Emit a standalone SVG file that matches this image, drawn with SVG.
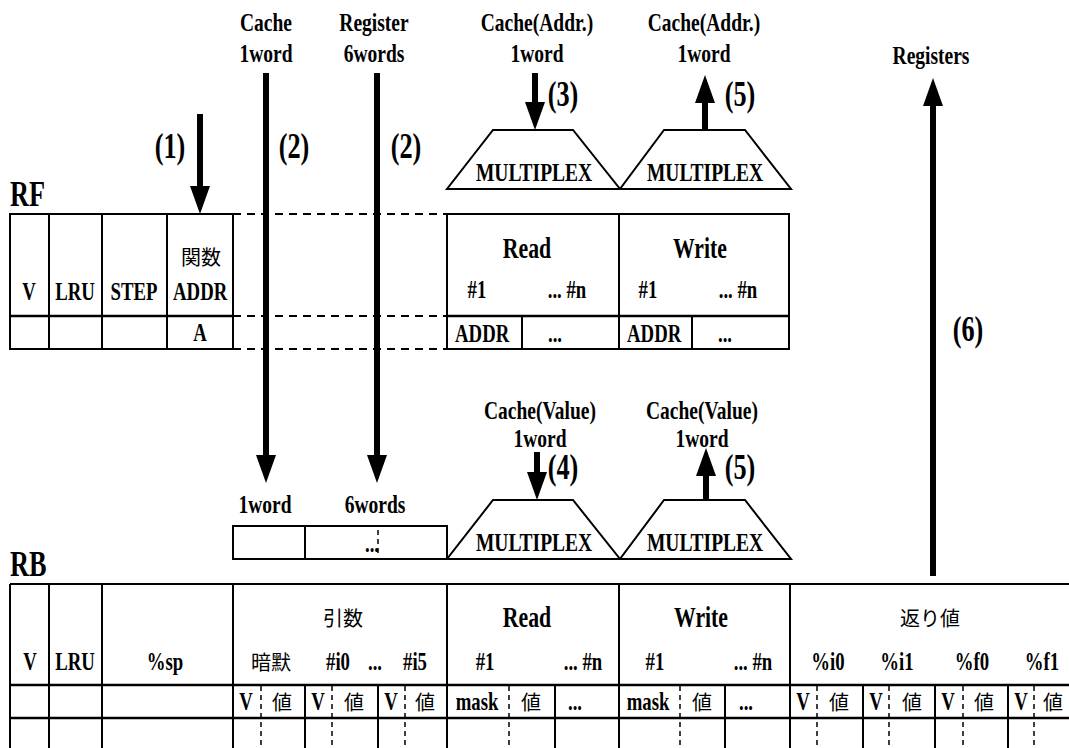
<svg xmlns="http://www.w3.org/2000/svg" width="1069" height="748" viewBox="0 0 1069 748">
<defs>
<style>
.t{font-family:"Liberation Serif",serif;font-weight:bold;font-size:25px;text-anchor:middle;transform-box:fill-box;transform-origin:center;transform:scaleX(0.75);fill:#000}
.lb{font-size:26px}
.rw{font-size:29px}
.num{font-size:35px}
.big{font-size:35px;text-anchor:start;transform-origin:left}
.j{font-family:"Noto Sans CJK JP",sans-serif;font-size:20px;text-anchor:middle;fill:#000}
.ln{stroke:#000;stroke-width:2;fill:none}
.hl{stroke:#000;stroke-width:2.5;fill:none}
.dl{stroke:#000;stroke-width:2;stroke-dasharray:8 6;fill:none}
.ds{stroke:#000;stroke-width:1.5;stroke-dasharray:5 4;fill:none}
.tz{stroke:#000;stroke-width:2;fill:#fff}
.ar{stroke:#000;stroke-width:6;fill:none;marker-end:url(#ah)}
</style>
<marker id="ah" markerUnits="userSpaceOnUse" markerWidth="28" markerHeight="20" refX="0" refY="10" orient="auto">
<path d="M0,0 L28,10 L0,20 z" fill="#000"/>
</marker>
</defs>
<rect width="1069" height="748" fill="#fff"/>

<g id="labels">
<text class="t lb" x="266" y="31">Cache</text>
<text class="t lb" x="266" y="62">1word</text>
<text class="t lb" x="374" y="31">Register</text>
<text class="t lb" x="374" y="62">6words</text>
<text class="t lb" x="537" y="31">Cache(Addr.)</text>
<text class="t lb" x="537" y="62">1word</text>
<text class="t lb" x="704" y="31">Cache(Addr.)</text>
<text class="t lb" x="704" y="62">1word</text>
<text class="t lb" x="931" y="64">Registers</text>
<text class="t num" x="170" y="158">(1)</text>
<text class="t num" x="294" y="158">(2)</text>
<text class="t num" x="406" y="158">(2)</text>
<text class="t num" x="563" y="106">(3)</text>
<text class="t num" x="740" y="106">(5)</text>
<text class="t num" x="968" y="341">(6)</text>
<text class="t lb" x="540" y="419">Cache(Value)</text>
<text class="t lb" x="540" y="447">1word</text>
<text class="t lb" x="702" y="419">Cache(Value)</text>
<text class="t lb" x="702" y="447">1word</text>
<text class="t num" x="563" y="479">(4)</text>
<text class="t num" x="740" y="479">(5)</text>
<text class="t lb" x="265" y="513">1word</text>
<text class="t lb" x="375" y="513">6words</text>
<text class="t big" x="10" y="206">RF</text>
<text class="t big" x="10" y="576">RB</text>
</g>

<g id="mux-addr-read">
<polygon class="tz" points="493,130 573,130 620,189 447,189"/>
<text class="t lb" x="534" y="181">MULTIPLEX</text>
</g>
<g id="mux-addr-write">
<polygon class="tz" points="664,130 745,130 791,189 620,189"/>
<text class="t lb" x="705" y="181">MULTIPLEX</text>
</g>
<g id="mux-val-read">
<polygon class="tz" points="493,500 573,500 620,559 447,559"/>
<text class="t lb" x="534" y="551">MULTIPLEX</text>
</g>
<g id="mux-val-write">
<polygon class="tz" points="664,500 745,500 791,559 620,559"/>
<text class="t lb" x="705" y="551">MULTIPLEX</text>
</g>

<g id="rf">
<rect class="ln" x="10" y="214" width="223" height="135"/>
<line class="hl" x1="10" y1="316" x2="233" y2="316"/>
<line class="ln" x1="49" y1="214" x2="49" y2="349"/>
<line class="ln" x1="102" y1="214" x2="102" y2="349"/>
<line class="ln" x1="167" y1="214" x2="167" y2="349"/>
<text class="t" x="29" y="300">V</text>
<text class="t" x="75" y="300">LRU</text>
<text class="t" x="134" y="300">STEP</text>
<text class="j" x="201" y="265">関数</text>
<text class="t" x="200" y="300">ADDR</text>
<text class="t" x="200" y="341">A</text>
<line class="dl" x1="233" y1="214" x2="447" y2="214"/>
<line class="dl" x1="233" y1="316" x2="447" y2="316"/>
<line class="dl" x1="233" y1="349" x2="447" y2="349"/>
<rect class="ln" x="447" y="214" width="342" height="135"/>
<line class="hl" x1="447" y1="316" x2="789" y2="316"/>
<line class="ln" x1="619" y1="214" x2="619" y2="349"/>
<line class="ln" x1="522" y1="316" x2="522" y2="349"/>
<line class="ln" x1="692" y1="316" x2="692" y2="349"/>
<text class="t rw" x="527" y="258">Read</text>
<text class="t" x="477" y="298">#1</text>
<text class="t" x="567" y="298">... #n</text>
<text class="t rw" x="700" y="258">Write</text>
<text class="t" x="648" y="298">#1</text>
<text class="t" x="738" y="298">... #n</text>
<text class="t" x="482" y="342">ADDR</text>
<text class="t" x="555" y="342">...</text>
<text class="t" x="654" y="342">ADDR</text>
<text class="t" x="725" y="342">...</text>
</g>

<g id="buffer">
<rect class="ln" x="233" y="526" width="214" height="33"/>
<line class="ln" x1="305" y1="526" x2="305" y2="559"/>
<line class="ds" x1="378" y1="530" x2="378" y2="557"/>
<text class="t" x="372" y="552">...</text>
</g>

<g id="rb">
<line class="ln" x1="10" y1="584" x2="1069" y2="584"/>
<line class="hl" x1="10" y1="685" x2="1069" y2="685"/>
<line class="hl" x1="10" y1="718" x2="1069" y2="718"/>
<line class="ln" x1="10" y1="584" x2="10" y2="748"/>
<line class="ln" x1="49" y1="584" x2="49" y2="748"/>
<line class="ln" x1="102" y1="584" x2="102" y2="748"/>
<line class="ln" x1="233" y1="584" x2="233" y2="748"/>
<line class="ln" x1="447" y1="584" x2="447" y2="748"/>
<line class="ln" x1="619" y1="584" x2="619" y2="748"/>
<line class="ln" x1="790" y1="584" x2="790" y2="748"/>
<line class="ln" x1="305" y1="685" x2="305" y2="748"/>
<line class="ln" x1="378" y1="685" x2="378" y2="748"/>
<line class="ln" x1="555" y1="685" x2="555" y2="748"/>
<line class="ln" x1="725" y1="685" x2="725" y2="748"/>
<line class="ln" x1="863" y1="685" x2="863" y2="748"/>
<line class="ln" x1="935" y1="685" x2="935" y2="748"/>
<line class="ln" x1="1008" y1="685" x2="1008" y2="748"/>
<line class="ds" x1="261" y1="686" x2="261" y2="748"/>
<line class="ds" x1="332" y1="686" x2="332" y2="748"/>
<line class="ds" x1="405" y1="686" x2="405" y2="748"/>
<line class="ds" x1="509" y1="686" x2="509" y2="748"/>
<line class="ds" x1="680" y1="686" x2="680" y2="748"/>
<line class="ds" x1="817" y1="686" x2="817" y2="748"/>
<line class="ds" x1="889" y1="686" x2="889" y2="748"/>
<line class="ds" x1="963" y1="686" x2="963" y2="748"/>
<line class="ds" x1="1034" y1="686" x2="1034" y2="748"/>
<text class="t" x="30" y="670">V</text>
<text class="t" x="75" y="670">LRU</text>
<text class="t" x="165" y="670">%sp</text>
<text class="j" x="343" y="626">引数</text>
<text class="j" x="271" y="670">暗默</text>
<text class="t" x="338" y="670">#i0</text>
<text class="t" x="375" y="670">...</text>
<text class="t" x="415" y="670">#i5</text>
<text class="t rw" x="527" y="627">Read</text>
<text class="t" x="485" y="670">#1</text>
<text class="t" x="583" y="670">... #n</text>
<text class="t rw" x="701" y="627">Write</text>
<text class="t" x="655" y="670">#1</text>
<text class="t" x="753" y="670">... #n</text>
<text class="j" x="930" y="626">返り値</text>
<text class="t" x="828" y="670">%i0</text>
<text class="t" x="897" y="670">%i1</text>
<text class="t" x="972" y="670">%f0</text>
<text class="t" x="1042" y="670">%f1</text>
<text class="t" x="246" y="710">V</text>
<text class="j" x="282" y="710">値</text>
<text class="t" x="318" y="710">V</text>
<text class="j" x="354" y="710">値</text>
<text class="t" x="391" y="710">V</text>
<text class="j" x="425" y="710">値</text>
<text class="t" x="477" y="710">mask</text>
<text class="j" x="531" y="710">値</text>
<text class="t" x="575" y="710">...</text>
<text class="t" x="648" y="710">mask</text>
<text class="j" x="702" y="710">値</text>
<text class="t" x="746" y="710">...</text>
<text class="t" x="803" y="710">V</text>
<text class="j" x="839" y="710">値</text>
<text class="t" x="876" y="710">V</text>
<text class="j" x="912" y="710">値</text>
<text class="t" x="948" y="710">V</text>
<text class="j" x="984" y="710">値</text>
<text class="t" x="1021" y="710">V</text>
<text class="j" x="1053" y="710">値</text>
</g>

<g id="connectors">
<line class="ar" x1="200" y1="114" x2="200" y2="186"/>
<line class="ar" x1="266" y1="73" x2="266" y2="455"/>
<line class="ar" x1="377" y1="73" x2="377" y2="455"/>
<line class="ar" x1="535" y1="73" x2="535" y2="102"/>
<line class="ar" x1="705" y1="130" x2="705" y2="103"/>
<line class="ar" x1="537" y1="452" x2="537" y2="472"/>
<line class="ar" x1="706" y1="500" x2="706" y2="476"/>
<line class="ar" x1="933" y1="576" x2="933" y2="106"/>
</g>
</svg>
